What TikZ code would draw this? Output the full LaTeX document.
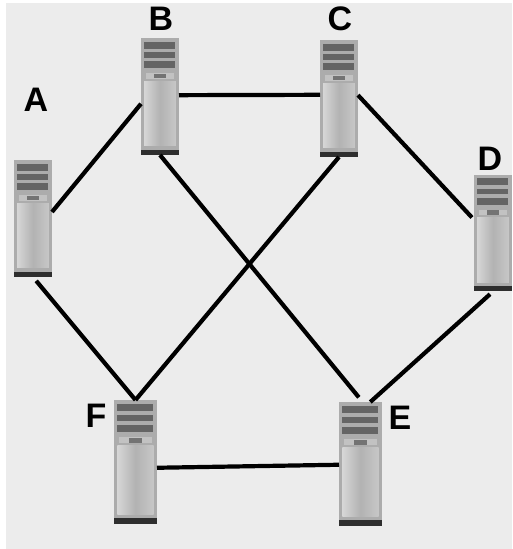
\documentclass[tikz,border=0pt]{standalone}
\usepackage{fontspec}
\setmainfont{Liberation Sans}
\definecolor{backdrop}{RGB}{236,236,236}
\definecolor{casing}{RGB}{172,172,172}
\definecolor{slot}{RGB}{100,100,100}
\definecolor{foot}{RGB}{46,46,46}
\tikzset{
  letter/.style={font=\fontsize{34}{34}\selectfont\bfseries,inner sep=0pt},
  link/.style={draw=black,line width=4.2pt},
  serverbox/.style={inner sep=0pt,outer sep=0pt}
}

\begin{document}
\begin{tikzpicture}[x=1pt,y=-1pt]
\useasboundingbox (0,0) rectangle (512,549);
\fill[backdrop] (6,3) rectangle (512,549);
% servers
\foreach \name/\cx/\cy/\boxw/\boxh in {A/33/218.5/38/117,B/160/96.5/38/117,C/339/98.5/38/117,
    D/493/233/38/117,E/360.5/464/43/124,F/135.5/462/43/124}{
  \begin{scope}[shift={(\cx-\boxw/2,\cy-\boxh/2)},x={\boxw*0.01pt},y={-\boxh*0.01pt}]
    \fill[casing] (0,0) rectangle (100,100);
    \fill[slot] (8,3) rectangle (90,9);
    \fill[slot] (8,12) rectangle (90,17);
    \fill[slot] (8,20) rectangle (90,26);
    \fill[black!24] (12,30) rectangle (88,35);
    \fill[black!55] (35,30.5) rectangle (65,34.5);
    \shade[left color=black!16,right color=black!22,middle color=black!30] (8,37) rectangle (92,92);
    \fill[foot] (0,95.5) rectangle (100,100);
  \end{scope}
  \node[serverbox,minimum width=\boxw pt,minimum height=\boxh pt] (\name) at (\cx,\cy) {};
}
% names
\node[letter] (nameA) at (36,100) {A};
\node[letter] (nameB) at (161,19) {B};
\node[letter] (nameC) at (340,19) {C};
\node[letter] (nameD) at (490,159) {D};
\node[letter] (nameE) at (400,418) {E};
\node[letter] (nameF) at (96,416) {F};
% links
\path[link]
  (A.19) -- (B.201)
  (B.4.5) -- (C.169.6);
\draw[link,shorten >=3pt] (C.10.4) -- (D.145.6);
\draw[link,shorten >=6pt] (B.south) -- (E.88.6);
\draw[link] (C.south) -- (F.north);
\draw[link,shorten <=5pt] (A.south) -- (F.north);
\draw[link] (F.-15.6) -- (E.182.7);
\draw[link,shorten >=4pt] (E.81) -- (D.south);
\end{tikzpicture}
\end{document}
